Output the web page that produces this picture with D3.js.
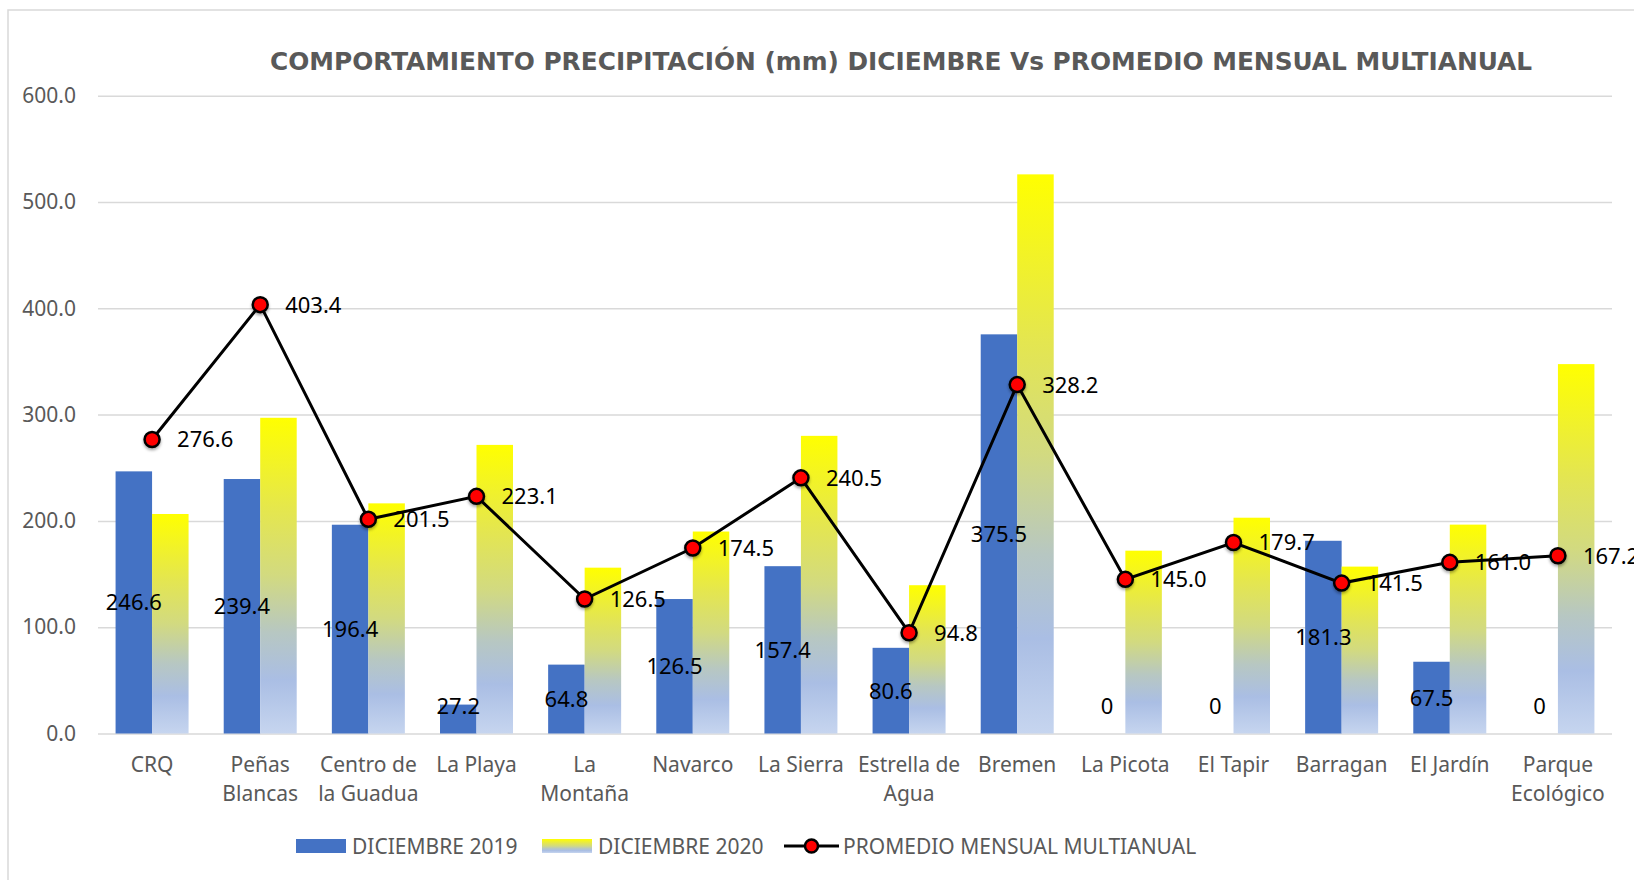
<!DOCTYPE html>
<html>
<head>
<meta charset="utf-8">
<script src="https://cdn.jsdelivr.net/npm/d3@7"></script>
<style>
  html, body { margin: 0; padding: 0; background: #fff; overflow: hidden; }
  svg { display: block; }
</style>
</head>
<body>
<script>
const categories = ['CRQ', 'Peñas\nBlancas', 'Centro de\nla Guadua', 'La Playa', 'La\nMontaña', 'Navarco',
  'La Sierra', 'Estrella de\nAgua', 'Bremen', 'La Picota', 'El Tapir', 'Barragan', 'El Jardín', 'Parque\nEcológico']
const dic2019 = [246.6, 239.4, 196.4, 27.2, 64.8, 126.5, 157.4, 80.6, 375.5, 0, 0, 181.3, 67.5, 0]
const dic2020 = [206.5, 297.0, 216.5, 271.5, 156.0, 190.0, 280.0, 139.5, 526.0, 172.0, 203.0, 157.0, 196.5, 347.5]
const promedio = [276.6, 403.4, 201.5, 223.1, 126.5, 174.5, 240.5, 94.8, 328.2, 145.0, 179.7, 141.5, 161.0, 167.2]
const yTicks = [0, 100, 200, 300, 400, 500, 600]
const seriesNames = ['DICIEMBRE 2019', 'DICIEMBRE 2020', 'PROMEDIO MENSUAL MULTIANUAL']
const title = 'COMPORTAMIENTO PRECIPITACIÓN (mm) DICIEMBRE Vs PROMEDIO MENSUAL MULTIANUAL'

const W = 1634, H = 880
const plot = {left: 98, right: 1612, top: 95.7, bottom: 733.5}
const font = "'Noto Sans', sans-serif"
const grey = '#595959'

const svg = d3.select('body').append('svg').attr('width', W).attr('height', H)
const defs = svg.append('defs')

const grad = defs.append('linearGradient').attr('id', 'yellowGrad')
  .attr('x1', 0).attr('y1', 0).attr('x2', 0).attr('y2', 1)
;[[0, '#FFFF00'], [0.3, '#E4E650'], [0.5, '#D2DA80'], [0.68, '#B7C7C2'], [0.83, '#AABEE4'], [1, '#C6D5EF']]
  .forEach(s => grad.append('stop').attr('offset', s[0]).attr('stop-color', s[1]))

const shadow = defs.append('filter').attr('id', 'shadow')
  .attr('x', '-50%').attr('y', '-50%').attr('width', '200%').attr('height', '200%')
shadow.append('feDropShadow').attr('dx', 0).attr('dy', 2).attr('stdDeviation', 1.6)
  .attr('flood-color', '#000').attr('flood-opacity', 0.35)

// chart frame
svg.append('rect').attr('x', 8).attr('y', 10).attr('width', W).attr('height', H)
  .attr('fill', 'none').attr('stroke', '#D9D9D9').attr('stroke-width', 1.5)

svg.append('text').attr('x', 901).attr('y', 70).attr('text-anchor', 'middle')
  .attr('font-family', "'DejaVu Sans Condensed', 'Liberation Sans Narrow', sans-serif")
  .attr('font-weight', 'bold').attr('font-size', 24).attr('fill', grey)
  .attr('textLength', 1262).attr('lengthAdjust', 'spacingAndGlyphs')
  .text(title)

const x0 = d3.scaleBand().domain(categories).range([plot.left, plot.right])
  .paddingInner(0.325).paddingOuter(0.1625)
const x1 = d3.scaleBand().domain(['a', 'b']).range([0, x0.bandwidth()])
const y = d3.scaleLinear().domain([0, 600]).range([plot.bottom, plot.top])
const cx = c => x0(c) + x0.bandwidth() / 2

// y axis + gridlines
const yAxis = svg.append('g').attr('transform', `translate(${plot.left},0)`)
  .call(d3.axisLeft(y).tickValues(yTicks).tickFormat(d3.format('.1f'))
    .tickSize(-(plot.right - plot.left)).tickPadding(22))
yAxis.select('.domain').remove()
yAxis.selectAll('line').attr('stroke', '#D9D9D9').attr('stroke-width', 1.5)
yAxis.selectAll('text').attr('font-family', font).attr('font-size', 21).attr('fill', grey)

// bars
const groups = svg.append('g').selectAll('g').data(categories).join('g')
  .attr('transform', c => `translate(${x0(c)},0)`)
groups.append('rect').attr('x', x1('a')).attr('width', x1.bandwidth())
  .attr('y', (c, i) => y(dic2019[i])).attr('height', (c, i) => y(0) - y(dic2019[i]))
  .attr('fill', '#4472C4')
groups.append('rect').attr('x', x1('b')).attr('width', x1.bandwidth())
  .attr('y', (c, i) => y(dic2020[i])).attr('height', (c, i) => y(0) - y(dic2020[i]))
  .attr('fill', 'url(#yellowGrad)')

// 2019 labels
groups.append('text')
  .attr('x', x1('a') + x1.bandwidth() / 2)
  .attr('y', (c, i) => Math.min(y(dic2019[i] / 2), y(0) - 27))
  .attr('dy', '0.36em').attr('text-anchor', 'middle')
  .attr('font-family', font).attr('font-size', 22).attr('fill', '#000')
  .text((c, i) => dic2019[i] === 0 ? '0' : d3.format('.1f')(dic2019[i]))

// line
const line = d3.line().x((d, i) => cx(categories[i])).y(d => y(d))
svg.append('path').datum(promedio).attr('d', line)
  .attr('fill', 'none').attr('stroke', '#000').attr('stroke-width', 3)
svg.append('g').selectAll('circle').data(promedio).join('circle')
  .attr('cx', (d, i) => cx(categories[i])).attr('cy', d => y(d)).attr('r', 7.5)
  .attr('fill', '#FF0000').attr('stroke', '#000').attr('stroke-width', 2.5)
  .attr('filter', 'url(#shadow)')
svg.append('g').selectAll('text').data(promedio).join('text')
  .attr('x', (d, i) => cx(categories[i]) + 25).attr('y', d => y(d))
  .attr('dy', '0.36em').attr('font-family', font).attr('font-size', 22).attr('fill', '#000')
  .text(d => d3.format('.1f')(d))

// category labels
const xl = svg.append('g').selectAll('text').data(categories).join('text')
  .attr('x', c => cx(c)).attr('y', 772).attr('text-anchor', 'middle')
  .attr('font-family', font).attr('font-size', 21).attr('fill', grey)
xl.each(function (c) {
  c.split('\n').forEach((t, k) => {
    d3.select(this).append('tspan').attr('x', cx(c)).attr('dy', k === 0 ? 0 : 29).text(t)
  })
})

// legend
const lg = svg.append('g').attr('font-family', font).attr('font-size', 21).attr('fill', grey)
lg.append('rect').attr('x', 296).attr('y', 839).attr('width', 50).attr('height', 14).attr('fill', '#4472C4')
lg.append('text').attr('x', 352).attr('y', 846).attr('dy', '0.36em').text(seriesNames[0])
lg.append('rect').attr('x', 542).attr('y', 839).attr('width', 50).attr('height', 14).attr('fill', 'url(#yellowGrad)')
lg.append('text').attr('x', 598).attr('y', 846).attr('dy', '0.36em').text(seriesNames[1])
lg.append('line').attr('x1', 784).attr('x2', 839).attr('y1', 846).attr('y2', 846)
  .attr('stroke', '#000').attr('stroke-width', 3)
lg.append('circle').attr('cx', 811.5).attr('cy', 846).attr('r', 6.5)
  .attr('fill', '#FF0000').attr('stroke', '#000').attr('stroke-width', 2.5)
lg.append('text').attr('x', 843).attr('y', 846).attr('dy', '0.36em').text(seriesNames[2])
</script>
</body>
</html>
